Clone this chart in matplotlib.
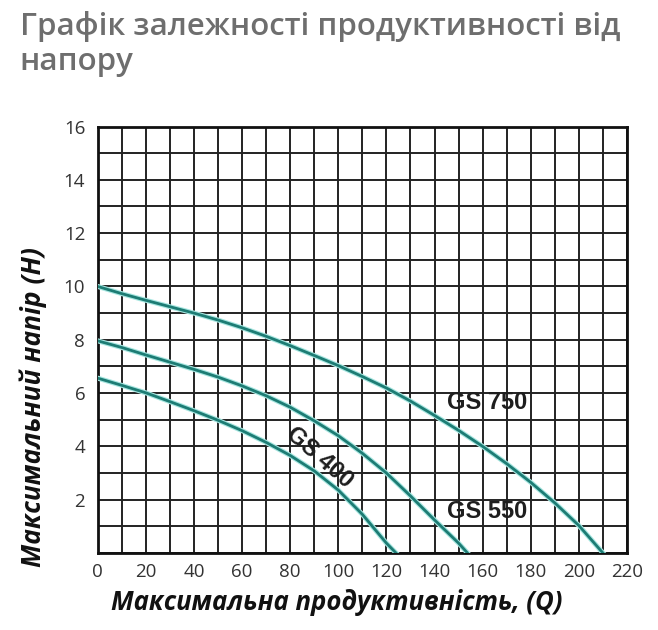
import numpy as np
import matplotlib
matplotlib.use("Agg")
import matplotlib.pyplot as plt

# curves: flow Q vs head H
q_750 = [0, 10, 20, 30, 40, 50, 60, 70, 80, 90, 100, 110, 120, 130, 140, 150, 160, 170, 180, 190, 200, 210]
h_750 = [10.0, 9.73, 9.48, 9.24, 9.0, 8.74, 8.45, 8.13, 7.78, 7.41, 7.03, 6.62, 6.19, 5.7, 5.16, 4.6, 4.0, 3.35, 2.65, 1.88, 1.03, 0.0]

q_550 = [0, 10, 20, 30, 40, 50, 60, 70, 80, 90, 100, 110, 120, 130, 140, 150, 153.7]
h_550 = [7.96, 7.71, 7.43, 7.16, 6.89, 6.6, 6.27, 5.9, 5.47, 4.96, 4.4, 3.74, 3.0, 2.14, 1.24, 0.37, 0.0]

q_400 = [0, 10, 20, 30, 40, 50, 60, 70, 80, 90, 100, 110, 120, 124]
h_400 = [6.56, 6.29, 6.01, 5.68, 5.34, 4.98, 4.59, 4.15, 3.66, 3.08, 2.36, 1.45, 0.37, 0.0]

x_ticks = list(range(0, 221, 20))
y_ticks = list(range(2, 17, 2))

title = "Графік залежності продуктивності від\nнапору"
x_label = "Максимальна продуктивність, (Q)"
y_label = "Максимальний напір (H)"

plt.rcParams['font.family'] = ['Open Sans', 'DejaVu Sans']

fig = plt.figure(figsize=(6.58, 6.30), dpi=100)
ax = fig.add_axes([0.1485, 0.1222, 0.8044, 0.677])

line_col = "#1d7c74"
for q, h in [(q_750, h_750), (q_550, h_550), (q_400, h_400)]:
    ax.plot(q, h, color="#a6e6e0", lw=3.6, solid_joinstyle="round", zorder=3)
    ax.plot(q, h, color=line_col, lw=2.0, solid_joinstyle="round", zorder=4)

ax.set_xlim(0, 220)
ax.set_ylim(0, 16)
ax.set_xticks(np.arange(0, 221, 10), minor=True)
ax.set_yticks(np.arange(0, 17, 1), minor=True)
ax.set_xticks(x_ticks)
ax.set_yticks(y_ticks)
ax.grid(which="both", color="#222222", lw=1.4, zorder=1)
ax.tick_params(which="both", length=0, labelsize=13.5, colors="#333333")
ax.tick_params(axis="x", pad=7)
ax.tick_params(axis="y", pad=9)
for s in ax.spines.values():
    s.set_linewidth(2)
    s.set_color("#111111")

lab_font = ['Liberation Sans', 'DejaVu Sans']
ax.text(162, 5.65, "GS 750", fontsize=17, fontweight="bold", family=lab_font, ha="center", va="center",
        color="#1e1e1e", zorder=5)
ax.text(162, 1.57, "GS 550", fontsize=17, fontweight="bold", family=lab_font, ha="center", va="center",
        color="#1e1e1e", zorder=5)
ax.text(92, 3.6, "GS 400", fontsize=17, fontweight="bold", family=lab_font, ha="center", va="center",
        color="#1e1e1e", rotation=-41, rotation_mode="anchor", zorder=5)

fig.text(0.512, 0.044, x_label, fontsize=18.5, fontweight="bold", fontstyle="italic", color="#111111",
         ha="center", va="center")
fig.text(0.05, 0.354, y_label, fontsize=19, fontweight="bold", fontstyle="italic", color="#111111",
         ha="center", va="center", rotation=90)

fig.text(0.03, 0.982, title, fontsize=22.5, fontweight="semibold", color="#6e6e6e", ha="left", va="top",
         linespacing=1.2)

fig.savefig("out.png", dpi=100)
